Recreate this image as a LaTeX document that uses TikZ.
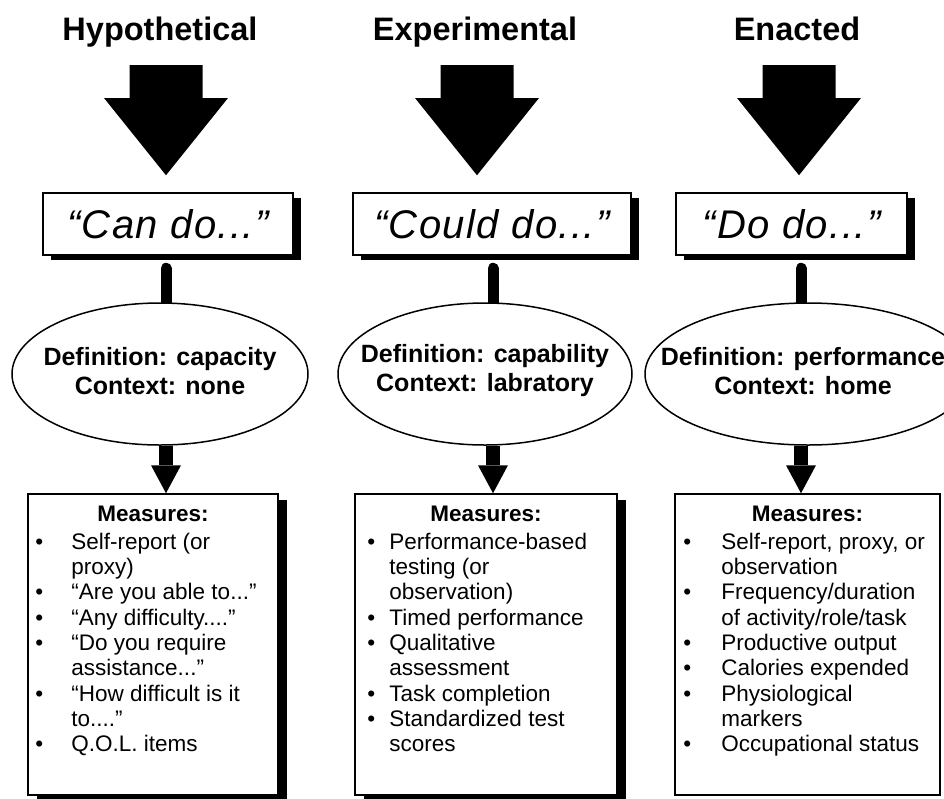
\documentclass[tikz,border=0pt]{standalone}
\usepackage{fontspec}
\setmainfont{Liberation Sans}
\newfontfamily\sayfont[LetterSpace=3.5]{Liberation Sans}
\usetikzlibrary{shapes.geometric,shadows,backgrounds,arrows.meta,calc}

\begin{document}
\begin{tikzpicture}[x=1pt,y=-1pt,
    title/.style={font=\fontsize{32.5}{36}\selectfont\bfseries},
    saybox/.style={draw,line width=1.5pt,fill=white,minimum height=62pt,inner sep=0pt,
      font=\fontsize{40}{44}\sayfont\itshape,
      drop shadow={shadow xshift=8pt,shadow yshift=-5pt,fill=black,opacity=1}},
    defn/.style={ellipse,draw,line width=1.5pt,fill=white,minimum height=142pt,inner sep=0pt},
    defntext/.style={align=center,inner sep=0pt,font=\fontsize{25}{29}\selectfont\bfseries},
    mbox/.style={draw,line width=1.5pt,fill=white,minimum height=301pt,inner sep=0pt},
    boxshadow/.style={drop shadow={shadow xshift=9pt,shadow yshift=-6pt,fill=black,opacity=1}},
    mhead/.style={anchor=base,font=\fontsize{22.5}{25.3}\selectfont\bfseries},
    mlist/.style={anchor=base west,inner sep=0pt,font=\fontsize{22.5}{25.3}\selectfont},
    stem/.style={line width=11pt,line cap=round},
    down/.style={line width=14pt,-{Triangle[width=30pt,length=28pt,line width=0pt]}}
  ]
  \useasboundingbox (0,0) rectangle (944,798);

  % column axes
  \coordinate (ax1) at (166,0);
  \coordinate (ax2) at (477,0);
  \coordinate (ax3) at (799,0);
  \coordinate (st1) at (166,0);
  \coordinate (st2) at (493,0);
  \coordinate (st3) at (801,0);

  % titles
  \node[title,anchor=base] (hyp) at (160,40) {Hypothetical};
  \node[title,anchor=base] (exp) at (475,40) {Experimental};
  \node[title,anchor=base] (ena) at (797,40) {Enacted};

  % quoted boxes
  \node[saybox,minimum width=250pt] (can) at (168,224) {“Can do...”};
  \node[saybox,minimum width=278pt] (could) at (492,224) {“Could do...”};
  \node[saybox,minimum width=231pt] (dodo) at (791.5,224) {“Do do...”};

  % big arrows
  \foreach \t/\b/\a in {hyp/can/ax1,exp/could/ax2,ena/dodo/ax3}{
    \coordinate (top) at ($(\a |- \t.base)+(0,25)$);
    \coordinate (tip) at ($(\a |- \b.north)+(0,-17)$);
    \fill (top) ++(-36.5,0) -- ++(73,0) -- ++(0,33) -- ++(25.5,0) -- (tip)
      -- ($(top)+(-62,33)$) -- ++(25.5,0) -- cycle;
  }

  % definitions
  \node[defn,minimum width=296pt] (def1) at (160,374) {};
  \node[defn,minimum width=294pt] (def2) at (485,374) {};
  \node[defn,minimum width=326pt] (def3) at (808,374) {};
  \node[defntext] (deftext1) at ([yshift=3pt]def1.center) {Definition: capacity\\Context: none};
  \node[defntext] (deftext2) at ([yshift=3pt]def2.center) {Definition: capability\\Context: labratory};
  \node[defntext] (deftext3) at ([xshift=-5pt,yshift=3pt]def3.center) {Definition: performance\\Context: home};

  \begin{scope}[on background layer]
    \draw[stem,shorten <=12.5pt] (st1 |- can.south) -- (st1 |- def1.north);
    \draw[stem,shorten <=12.5pt] (st2 |- could.south) -- (st2 |- def2.north);
    \draw[stem,shorten <=12.5pt] (st3 |- dodo.south) -- (st3 |- def3.north);
  \end{scope}

  % measures
  \node[mbox,boxshadow,minimum width=250pt] (mbox1) at (153,644.5) {};
  \node[mbox,boxshadow,minimum width=262pt] (mbox2) at (486,644.5) {};
  \node[mbox,minimum width=265pt] (mbox3) at (807.5,644.5) {};

  \draw[down] (st1 |- def1.south) -- (st1 |- mbox1.north);
  \draw[down] (st2 |- def2.south) -- (st2 |- mbox2.north);
  \draw[down] (st3 |- def3.south) -- (st3 |- mbox3.north);

  \node[mhead] at ([yshift=-28pt]mbox1.north) {Measures:};
  \node[mhead] at ([yshift=-28pt]mbox2.north) {Measures:};
  \node[mhead] at ([yshift=-28pt]mbox3.north) {Measures:};

  \node[mlist] (list1) at ([xshift=8pt,yshift=-56pt]mbox1.north west) {%
    \begin{tabular}[t]{@{}p{36pt}@{}l@{}}
      \textbullet & Self-report (or\\
                  & proxy)\\
      \textbullet & “Are you able to...”\\
      \textbullet & “Any difficulty....”\\
      \textbullet & “Do you require\\
                  & assistance...”\\
      \textbullet & “How difficult is it\\
                  & to....”\\
      \textbullet & Q.O.L. items
    \end{tabular}};
  \node[mlist] (list2) at ([xshift=13pt,yshift=-56pt]mbox2.north west) {%
    \begin{tabular}[t]{@{}p{22pt}@{}l@{}}
      \textbullet & Performance-based\\
                  & testing (or\\
                  & observation)\\
      \textbullet & Timed performance\\
      \textbullet & Qualitative\\
                  & assessment\\
      \textbullet & Task completion\\
      \textbullet & Standardized test\\
                  & scores
    \end{tabular}};
  \node[mlist] (list3) at ([xshift=9pt,yshift=-56pt]mbox3.north west) {%
    \begin{tabular}[t]{@{}p{38pt}@{}l@{}}
      \textbullet & Self-report, proxy, or\\
                  & observation\\
      \textbullet & Frequency/duration\\
                  & of activity/role/task\\
      \textbullet & Productive output\\
      \textbullet & Calories expended\\
      \textbullet & Physiological\\
                  & markers\\
      \textbullet & Occupational status
    \end{tabular}};
\end{tikzpicture}
\end{document}
